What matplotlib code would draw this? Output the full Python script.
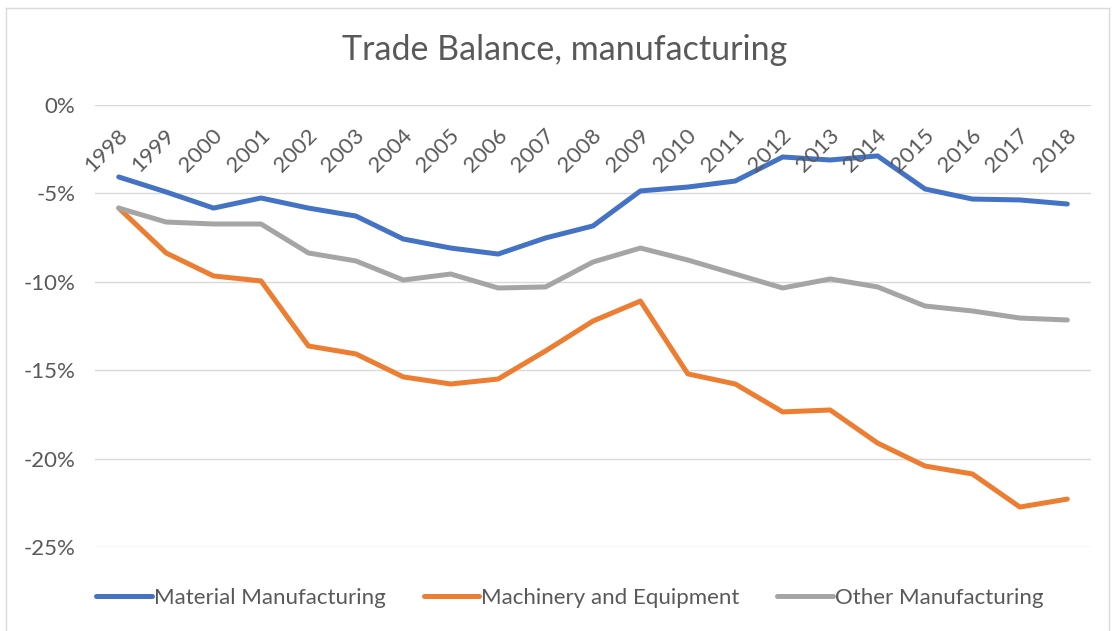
import numpy as np
import matplotlib.pyplot as plt
from matplotlib.lines import Line2D

years = [str(y) for y in range(1998, 2019)]

material = [-4.07, -4.92, -5.83, -5.26, -5.83, -6.28, -7.58, -8.09, -8.43, -7.52, -6.84,
            -4.86, -4.64, -4.30, -2.94, -3.11, -2.88, -4.75, -5.32, -5.37, -5.60]
machinery = [-5.83, -8.37, -9.67, -9.95, -13.63, -14.08, -15.38, -15.78, -15.50, -13.91, -12.22,
             -11.09, -15.21, -15.78, -17.36, -17.25, -19.12, -20.42, -20.87, -22.74, -22.29]
other = [-5.83, -6.62, -6.73, -6.73, -8.37, -8.82, -9.90, -9.56, -10.35, -10.29, -8.88,
         -8.09, -8.77, -9.56, -10.35, -9.84, -10.29, -11.37, -11.65, -12.05, -12.16]

series_names = ['Material Manufacturing', 'Machinery and Equipment', 'Other Manufacturing']
colors = ['#4472C4', '#ED7D31', '#A5A5A5']
yticks = [0, -5, -10, -15, -20, -25]

plt.rcParams['font.family'] = ['Lato', 'DejaVu Sans']
txt = '#595959'

fig = plt.figure(figsize=(11.13, 6.31), dpi=100)
ax = fig.add_axes([95 / 1113, 1 - 547 / 631, 996 / 1113, 442 / 631])

x = np.arange(len(years))
for vals, name, c in zip([material, machinery, other], series_names, colors):
    ax.plot(x, vals, color=c, lw=3.6, label=name, solid_capstyle='round', solid_joinstyle='round')

ax.set_xlim(-0.5, len(years) - 0.5)
ax.set_ylim(-25, 0)
ax.set_yticks(yticks)
ax.set_yticklabels([f'{t}%' for t in yticks], color=txt, fontsize=16)
ax.tick_params(axis='y', length=0, pad=14)
ax.set_xticks([])
ax.grid(axis='y', color='#D9D9D9', lw=1)
ax.set_axisbelow(True)
for s in ax.spines.values():
    s.set_visible(False)

# category labels sit just under the 0% line
for i, yr in enumerate(years):
    ax.text(i + 0.12, -1.55, yr, rotation=45, ha='right', va='center',
            rotation_mode='anchor', color=txt, fontsize=16)

fig.suptitle('Trade Balance, manufacturing', x=565 / 1113, y=1 - 50 / 631,
             va='center', color=txt, fontsize=24.5)

handles = [Line2D([], [], color=c, lw=3.6, solid_capstyle='round') for c in colors]
fig.legend(handles, series_names, loc='center', bbox_to_anchor=(570 / 1113, 1 - 598 / 631),
           ncol=3, frameon=False, fontsize=16, labelcolor=txt,
           handlelength=2.5, handletextpad=0.1, columnspacing=1.7)

# chart border
bc = '#D9D9D9'
fig.add_artist(Line2D([6 / 1113, 6 / 1113], [0, 1 - 8 / 631], color=bc, lw=1))
fig.add_artist(Line2D([6 / 1113, 1109 / 1113], [1 - 8 / 631, 1 - 8 / 631], color=bc, lw=1))
fig.add_artist(Line2D([1109 / 1113, 1109 / 1113], [0, 1 - 8 / 631], color=bc, lw=1))

fig.savefig('out.png', dpi=100)
